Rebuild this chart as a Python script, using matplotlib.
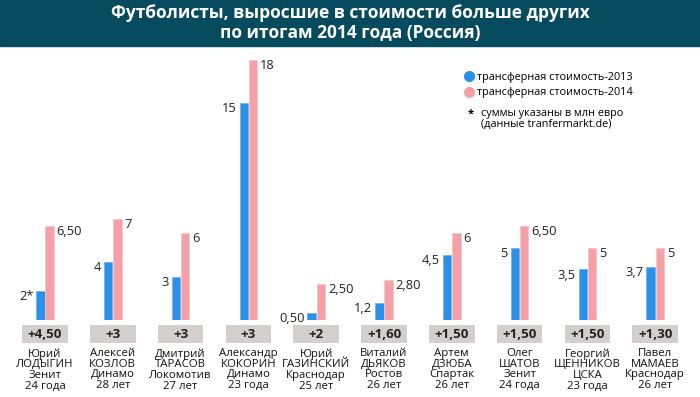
import matplotlib.pyplot as plt
from matplotlib.lines import Line2D
from matplotlib.patches import Rectangle

plt.rcParams['font.family'] = ['Open Sans', 'DejaVu Sans']

# data
players = ["Юрий\nЛОДЫГИН\nЗенит\n24 года",
           "Алексей\nКОЗЛОВ\nДинамо\n28 лет",
           "Дмитрий\nТАРАСОВ\nЛокомотив\n27 лет",
           "Александр\nКОКОРИН\nДинамо\n23 года",
           "Юрий\nГАЗИНСКИЙ\nКраснодар\n25 лет",
           "Виталий\nДЬЯКОВ\nРостов\n26 лет",
           "Артем\nДЗЮБА\nСпартак\n26 лет",
           "Олег\nШАТОВ\nЗенит\n24 года",
           "Георгий\nЩЕННИКОВ\nЦСКА\n23 года",
           "Павел\nМАМАЕВ\nКраснодар\n26 лет"]
value_2013 = [2, 4, 3, 15, 0.5, 1.2, 4.5, 5, 3.5, 3.7]
value_2014 = [6.5, 7, 6, 18, 2.5, 2.8, 6, 6.5, 5, 5]
labels_2013 = ["2*", "4", "3", "15", "0,50", "1,2", "4,5", "5", "3,5", "3,7"]
labels_2014 = ["6,50", "7", "6", "18", "2,50", "2,80", "6", "6,50", "5", "5"]
growth = ["+4,50", "+3", "+3", "+3", "+2", "+1,60", "+1,50", "+1,50", "+1,50", "+1,30"]

blue = '#2b90e8'
pink = '#f5a0a6'

W, H = 700, 397
fig = plt.figure(figsize=(W / 100, H / 100), dpi=100)

# axes: baseline at y=320px, 18 -> y=60px
ax = fig.add_axes([0, (H - 320) / H, 1, (320 - 46) / H])
step = 67.8
ax.set_xlim(-45 / step, (W - 45) / step)
ax.set_ylim(0, 274 / 14.44)
ax.axis('off')

x = list(range(len(players)))
bw = 8.5 / step
ax.bar([i - bw / 2 - 0.005 for i in x], value_2013, width=bw, color=blue,
       edgecolor='#6fb6f0', linewidth=0.6)
ax.bar([i + bw / 2 + 0.005 for i in x], value_2014, width=bw, color=pink,
       edgecolor='#f8c4c7', linewidth=0.6)

for i in x:
    ax.annotate(labels_2013[i], (i - bw - 0.005, value_2013[i]), xytext=(-2, -4),
                textcoords='offset points', ha='right', va='center',
                fontsize=9.3, color='#222222')
    ax.annotate(labels_2014[i], (i + bw + 0.005, value_2014[i]), xytext=(2, -4),
                textcoords='offset points', ha='left', va='center',
                fontsize=9.3, color='#222222')
    ax.add_patch(Rectangle((i - 0.335, -23 / 14.44), 0.67, 18 / 14.44,
                           color='#d3cfcf', clip_on=False, lw=0))
    ax.text(i, -14 / 14.44, growth[i], ha='center', va='center',
            fontsize=9.5, fontweight='bold', color='#222222', clip_on=False)
    ax.text(i, -28 / 14.44, players[i], ha='center', va='top',
            fontsize=8.2, linespacing=0.96, color='#111111', clip_on=False)

# title banner
fig.patches.append(Rectangle((0, (H - 46) / H), 1, 46 / H, transform=fig.transFigure,
                             color='#064a5e', zorder=0))
fig.text(0.5, 1 - 23 / H,
         "Футболисты, выросшие в стоимости больше других\nпо итогам 2014 года (Россия)",
         ha='center', va='center', color='white', fontsize=12.5, fontweight='bold',
         linespacing=1.15)

# legend
handles = [Line2D([], [], marker='o', ls='none', color=blue, markersize=7),
           Line2D([], [], marker='o', ls='none', color=pink, markersize=7)]
fig.legend(handles, ["трансферная стоимость-2013", "трансферная стоимость-2014"],
           loc='upper left', bbox_to_anchor=(462 / W, 1 - 72 / H), frameon=False,
           fontsize=7.8, handletextpad=0.2, labelspacing=0.4, borderaxespad=0,
           borderpad=0, handlelength=1.2)
fig.text(468 / W, 1 - 114 / H, "*", ha='left', va='center', fontsize=8, fontweight='bold')
fig.text(481 / W, 1 - 119 / H, "суммы указаны в млн евро\n(данные tranfermarkt.de)",
         ha='left', va='center', fontsize=7.8, linespacing=0.9)

fig.savefig('out.png', dpi=100)
